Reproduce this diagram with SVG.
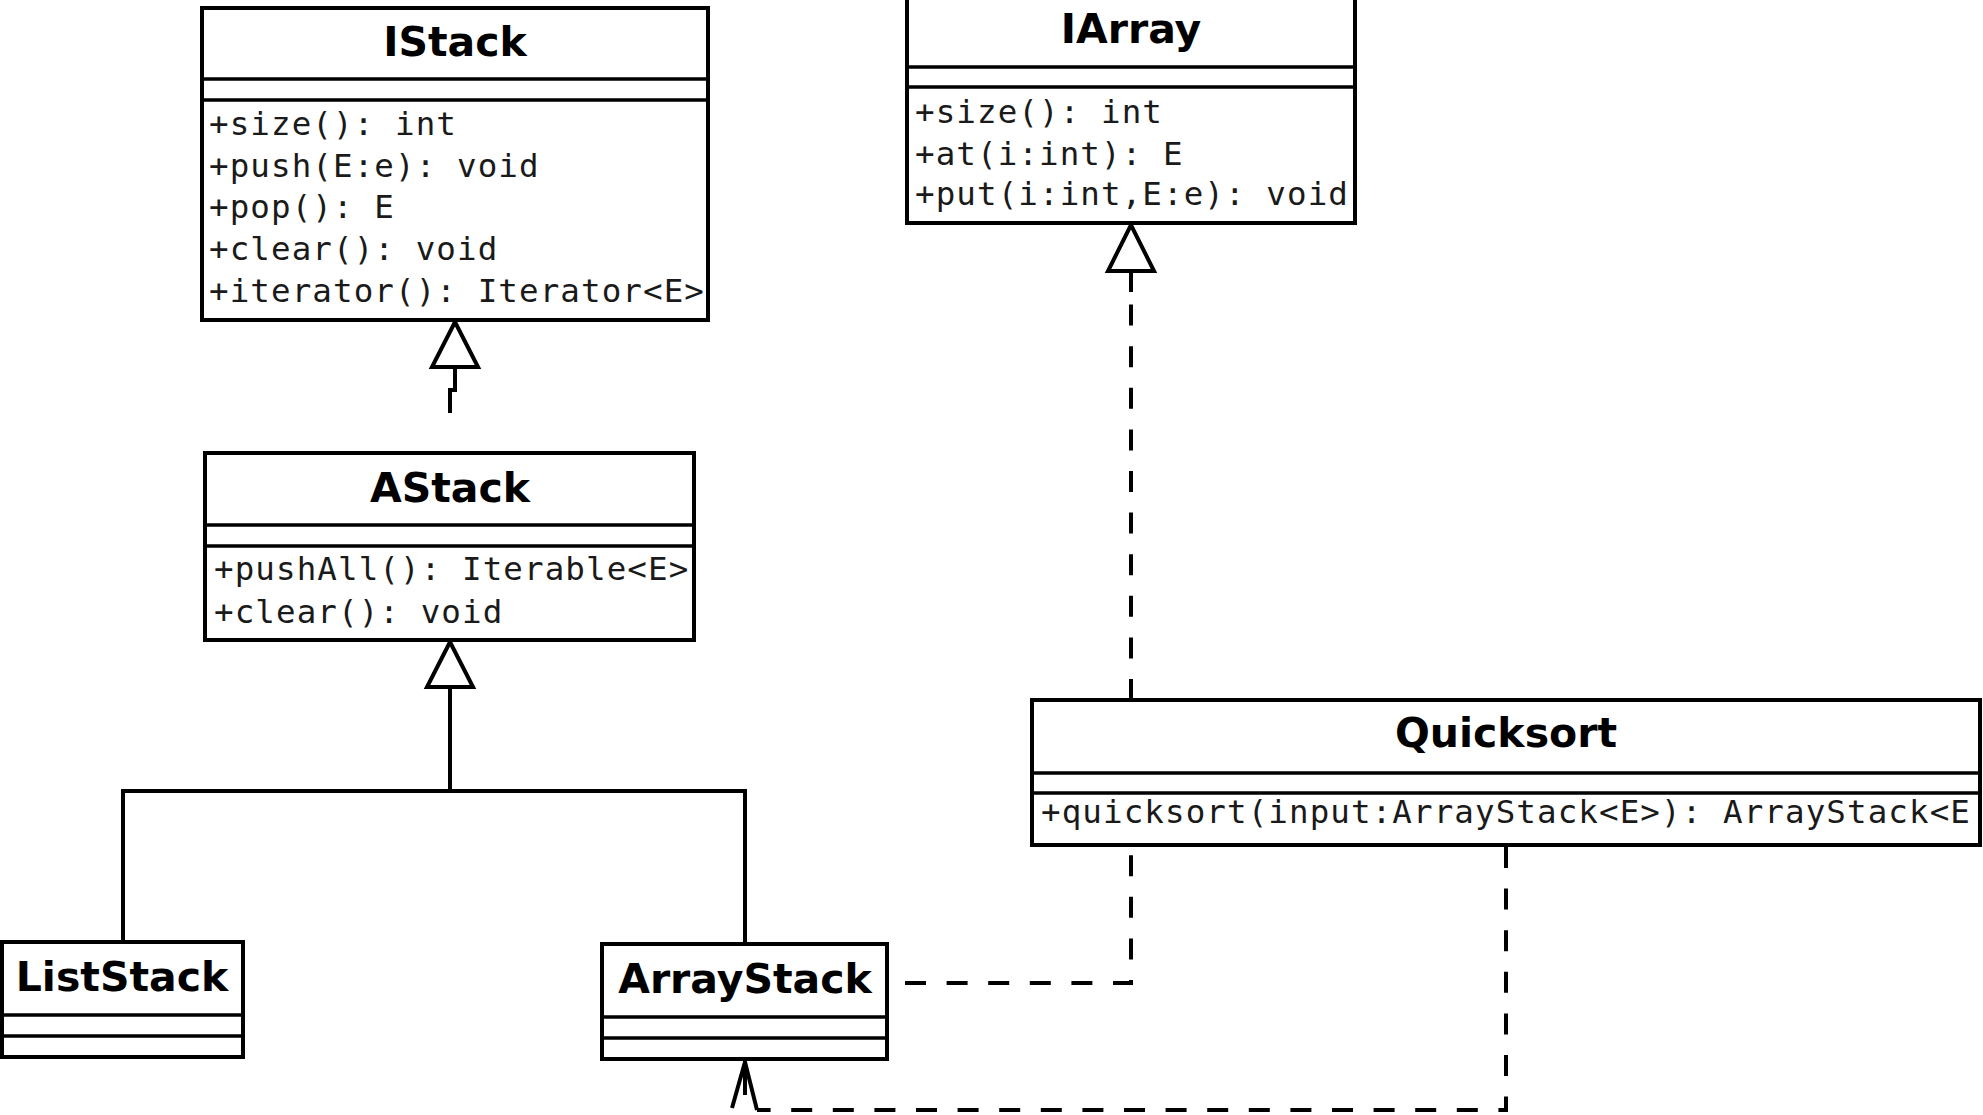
<svg xmlns="http://www.w3.org/2000/svg" width="1983" height="1115" viewBox="0 0 1983 1115">
<style>
.box{fill:#fff;stroke:#000;stroke-width:4}
.sep{stroke:#000;stroke-width:3.5;fill:none}
.title{font-family:"DejaVu Sans","Liberation Sans",sans-serif;font-weight:bold;font-size:41px;text-anchor:middle;fill:#000}
.m{font-family:"DejaVu Sans Mono","Liberation Mono",monospace;font-size:32.5px;letter-spacing:1.1px;fill:#1a1a1a}
.solid{stroke:#000;stroke-width:4;fill:none}
.dash{stroke:#000;stroke-width:4;fill:none;stroke-dasharray:21 20.6}
.tri{fill:#fff;stroke:#000;stroke-width:4;stroke-linejoin:miter}
</style>
<rect width="1983" height="1115" fill="#fff"/>
<g id="connectors">
  <path class="solid" d="M455,367 V390 H450 V413"/>
  <polygon class="tri" points="455,322 432,367 478,367"/>
  <path class="solid" d="M450,687 V791 M123,942 V791 H745 V944"/>
  <polygon class="tri" points="450,642 427,687 473,687"/>
  <path class="dash" d="M1131,700 V271"/>
  <path class="solid" d="M1131,271 V292"/>
  <polygon class="tri" points="1131,225 1108,271 1154,271"/>
  <path class="dash" d="M905,983 H1131 V847"/>
  <path class="dash" d="M1506,847 V1110 H757"/>
  <path class="solid" d="M745,1063 V1095"/>
  <polyline class="solid" points="732,1108 745,1062 757,1110"/>
</g>
<g id="IStack">
  <rect class="box" x="202" y="8" width="506" height="312"/>
  <path class="sep" d="M202,79 H708 M202,100 H708"/>
  <text class="title" x="455" y="56">IStack</text>
  <text class="m" x="209" y="135">+size(): int</text>
  <text class="m" x="209" y="177">+push(E:e): void</text>
  <text class="m" x="209" y="218">+pop(): E</text>
  <text class="m" x="209" y="260">+clear(): void</text>
  <text class="m" x="209" y="302">+iterator(): Iterator&lt;E&gt;</text>
</g>
<g id="IArray">
  <rect class="box" x="907" y="-4" width="448" height="227"/>
  <path class="sep" d="M907,67 H1355 M907,87 H1355"/>
  <text class="title" x="1131" y="43">IArray</text>
  <text class="m" x="915" y="123">+size(): int</text>
  <text class="m" x="915" y="165">+at(i:int): E</text>
  <text class="m" x="915" y="205">+put(i:int,E:e): void</text>
</g>
<g id="AStack">
  <rect class="box" x="205" y="453" width="489" height="187"/>
  <path class="sep" d="M205,525 H694 M205,546 H694"/>
  <text class="title" x="450" y="502">AStack</text>
  <text class="m" x="214" y="580">+pushAll(): Iterable&lt;E&gt;</text>
  <text class="m" x="214" y="623">+clear(): void</text>
</g>
<g id="ListStack">
  <rect class="box" x="2" y="942" width="241" height="115"/>
  <path class="sep" d="M2,1015 H243 M2,1036 H243"/>
  <text class="title" x="122" y="991">ListStack</text>
</g>
<g id="ArrayStack">
  <rect class="box" x="602" y="944" width="285" height="115"/>
  <path class="sep" d="M602,1017 H887 M602,1038 H887"/>
  <text class="title" x="745" y="993">ArrayStack</text>
</g>
<g id="Quicksort">
  <rect class="box" x="1032" y="700" width="948" height="145"/>
  <path class="sep" d="M1032,773 H1980 M1032,793 H1980"/>
  <text class="title" x="1506" y="747">Quicksort</text>
  <text class="m" x="1041" y="823">+quicksort(input:ArrayStack&lt;E&gt;): ArrayStack&lt;E</text>
</g>
</svg>
